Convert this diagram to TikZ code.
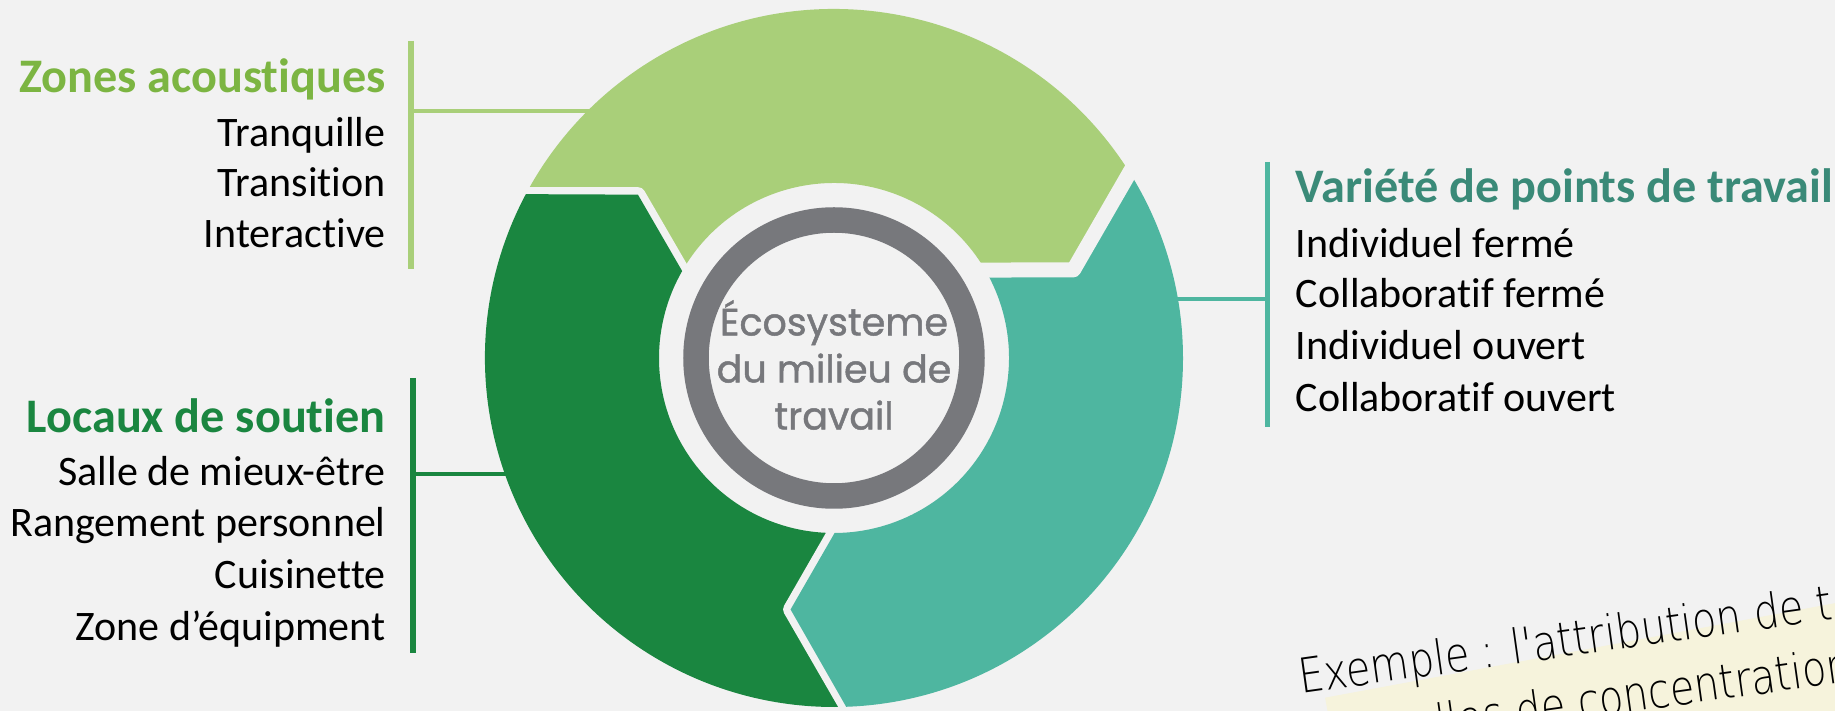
\documentclass[tikz,border=0pt]{standalone}
\usepackage{fontspec}
\setmainfont{Carlito}[Ligatures=NoCommon]
\newfontfamily\ecofont{Poppins}[FakeBold=1.2]
\newfontfamily\notefont{DejaVu Sans ExtraLight}
\usetikzlibrary{positioning}

\definecolor{bg}{RGB}{242,242,242}
\definecolor{lgreen}{RGB}{169,207,121}
\definecolor{lgreentxt}{RGB}{124,181,66}
\definecolor{dgreen}{RGB}{26,134,64}
\definecolor{tealseg}{RGB}{78,182,160}
\definecolor{tealtxt}{RGB}{58,138,120}
\definecolor{ringgray}{RGB}{119,120,124}
\definecolor{notebg}{RGB}{246,243,220}

\tikzset{
  head/.style={inner sep=0pt, font=\bfseries\fontsize{24.1}{28}\selectfont},
  item/.style={inner sep=0pt, text=black, font=\fontsize{21}{24}\selectfont},
  gap/.style={draw=bg, line width=7.5pt, line join=round},
  bar/.style={line width=2.6pt},
  link/.style={line width=2pt},
  notetext/.style={anchor=base west, inner sep=0pt, transform shape, xscale=0.83,
    font=\notefont\fontsize{24}{28}\selectfont},
}

\begin{document}
\begin{tikzpicture}[x=0.5pt, y=0.5pt]
\useasboundingbox[fill=bg] (-834,358) rectangle (1001,-353);
\clip (-834,358) rectangle (1001,-353);

% ring of three segments
\foreach \a/\c in {0/lgreen, 120/dgreen, 240/tealseg}{
  \fill[\c] (\a+152:349) -- (\a+140.2:255.2) -- (\a+150.2:175)
    arc[start angle=\a+150.2, end angle=\a+30.2, radius=175]
    -- (\a+20.2:255.2) -- (\a+32:349)
    arc[start angle=\a+32, end angle=\a+152, radius=349] -- cycle;
  \draw[gap] (\a+153.65:368) -- (\a+140.2:255.2) -- (\a+152.2:165);
}

\draw[ringgray, line width=12.75pt] (0,0) circle[radius=138];
\node (eco) at (0,-7) [align=center, text=ringgray, inner sep=0pt,
  font=\ecofont\fontsize{19}{23.5}\selectfont] {Écosysteme\\du milieu de\\travail};

% Zones acoustiques
\node (za) [head, text=lgreentxt, anchor=base east] at (-448,265) {Zones acoustiques};
\node (za1) [item, anchor=base east] at (-448,211) {Tranquille};
\node (za2) [item, anchor=base east] at (-448,161) {Transition};
\node (za3) [item, anchor=base east] at (-448,110) {Interactive};
\coordinate (zatop) at (-423,317);
\coordinate (zabot) at (-423,89);
\coordinate (zaring) at (133.5:340);
\draw[lgreen, bar] (zatop) -- (zabot);
\draw[lgreen, link] (zatop |- zaring) -- (zaring);

% Locaux de soutien
\node (ls) [head, text=dgreen, anchor=base east] at (-448,-75) {Locaux de soutien};
\node (ls1) [item, anchor=base east] at (-448,-128) {Salle de mieux-être};
\node (ls2) [item, anchor=base east] at (-448,-179) {Rangement personnel};
\node (ls3) [item, anchor=base east] at (-448,-231) {Cuisinette};
\node (ls4) [item, anchor=base east] at (-448,-282) {Zone d’équipment};
\coordinate (lstop) at (-421,-20);
\coordinate (lsbot) at (-421,-295);
\coordinate (lsring) at (200:340);
\draw[dgreen, bar] (lstop) -- (lsbot);
\draw[dgreen, link] (lstop |- lsring) -- (lsring);

% Variete de points de travail
\node (vp) [head, text=tealtxt, anchor=base west] at (461.5,155) {Variété de points de travail};
\node (vp1) [item, anchor=base west] at (461.5,100) {Individuel fermé};
\node (vp2) [item, anchor=base west] at (461.5,50) {Collaboratif fermé};
\node (vp3) [item, anchor=base west] at (461.5,-2) {Individuel ouvert};
\node (vp4) [item, anchor=base west] at (461.5,-54) {Collaboratif ouvert};
\coordinate (vptop) at (433.5,196);
\coordinate (vpbot) at (433.5,-69);
\coordinate (vpring) at (10:340);
\draw[tealseg, bar] (vptop) -- (vpbot);
\draw[tealseg, link] (vptop |- vpring) -- (vpring);

% note
\begin{scope}[rotate around={10.5:(467,-336)}]
  \fill[notebg] (490,-344) rectangle (1300,-520);
\end{scope}
\begin{scope}[rotate around={8:(467,-336)}]
  \node (ex) [notetext] at (467,-336) {Exemple : l'attribution de t};
  \node (ex2) [notetext] at (597,-400) {lles de concentration};
\end{scope}
\end{tikzpicture}
\end{document}
